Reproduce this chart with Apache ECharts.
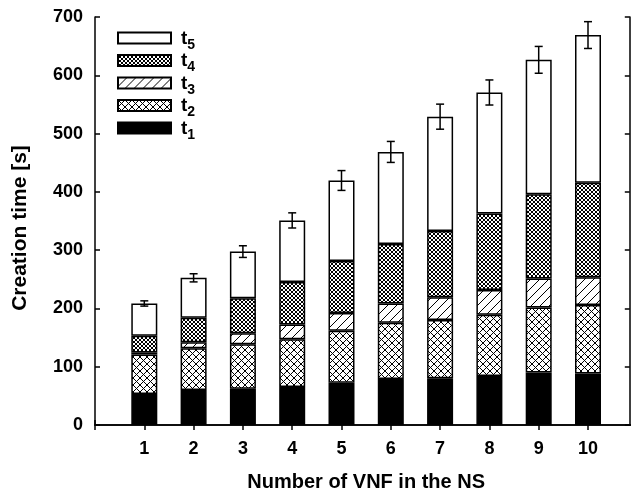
<!DOCTYPE html>
<html>
<head>
<meta charset="utf-8">
<script src="https://cdn.jsdelivr.net/npm/echarts@6/dist/echarts.min.js"></script>
<style>
  html, body { margin: 0; padding: 0; background: #fff; }
  #main { width: 631px; height: 491px; }
</style>
</head>
<body>
<div id="main"></div>
<script>
// number of VNF in the NS
var vnfCount = [1, 2, 3, 4, 5, 6, 7, 8, 9, 10];
// stage durations [s]
var t1 = [53, 60, 62, 65, 72.5, 79, 80, 84, 90, 88.5];
var t2 = [68, 71.5, 76.5, 82, 89, 96.5, 100, 105, 111.5, 117.5];
var t3 = [3.5, 10.5, 19, 25.5, 30.5, 33, 39, 42.5, 50, 47.5];
var t4 = [28.5, 42, 60, 73, 89.5, 102, 114, 131.5, 144.5, 162];
var t5 = [55.5, 68.5, 80, 105.5, 138, 158, 196, 207.5, 230.5, 253.5];
// error bar half-width on the total [s]
var totalErr = [4.5, 7, 10, 13, 17, 18, 21.5, 21.5, 23, 23];
var yTicks = [0, 100, 200, 300, 400, 500, 600, 700];

// x axis runs from 0 to 11, empty slots at both ends
var xCats = [''].concat(vnfCount.map(String), ['']);

var FONT = 'Liberation Sans, Arial, sans-serif';

function tile(size, draw) {
  var c = document.createElement('canvas');
  c.width = size; c.height = size;
  var ctx = c.getContext('2d');
  ctx.fillStyle = '#fff';
  ctx.fillRect(0, 0, size, size);
  ctx.fillStyle = '#000';
  draw(ctx, size);
  return { image: c, repeat: 'repeat' };
}

var patSolid = '#000';
var patCross = tile(7, function (ctx, n) {
  for (var i = 0; i < n; i++) {
    ctx.fillRect(i, i, 1, 1);
    ctx.fillRect(n - 1 - i, i, 1, 1);
  }
});
var patSlash = tile(9, function (ctx, n) {
  for (var i = 0; i < n; i++) ctx.fillRect(i, n - 1 - i, 1, 1);
});
var patDense = tile(4, function (ctx, n) {
  for (var i = 0; i < n; i++) {
    ctx.fillRect(i, i, 1, 1);
    ctx.fillRect(n - 1 - i, i, 1, 1);
  }
});
var patWhite = '#fff';

function pairs(arr) {
  return arr.map(function (v, i) { return [vnfCount[i], v]; });
}

var totals = vnfCount.map(function (_, i) {
  return t1[i] + t2[i] + t3[i] + t4[i] + t5[i];
});

function barSeries(name, data, fill) {
  return {
    name: name,
    type: 'bar',
    stack: 'total',
    barWidth: 26,
    data: pairs(data),
    itemStyle: { color: fill, borderColor: '#000', borderWidth: 1.5 },
    emphasis: { disabled: true }
  };
}

var chart = echarts.init(document.getElementById('main'));

chart.setOption({
  animation: false,
  textStyle: { fontFamily: FONT },
  grid: { left: 95, right: -6.3, top: 17, bottom: 66, outerBoundsMode: 'none' },
  legend: {
    data: ['t5', 't4', 't3', 't2', 't1'],
    orient: 'vertical',
    left: 117,
    top: 29,
    padding: 0,
    icon: 'rect',
    itemWidth: 53,
    itemHeight: 11,
    itemGap: -0.5,
    formatter: function (name) {
      return '{a|t}{b|' + name.slice(1) + '}';
    },
    textStyle: {
      padding: [0, 0, 0, 5],
      rich: {
        a: { fontSize: 19, fontWeight: 'bold', color: '#000', fontFamily: FONT, lineHeight: 18, verticalAlign: 'top' },
        b: { fontSize: 14, fontWeight: 'bold', color: '#000', fontFamily: FONT, lineHeight: 12, verticalAlign: 'top', padding: [9, 0, 0, 0] }
      }
    }
  },
  xAxis: [{
    type: 'category',
    data: xCats,
    boundaryGap: false,
    name: 'Number of VNF in the NS',
    nameLocation: 'middle',
    nameGap: 47,
    nameTextStyle: { fontSize: 20, fontWeight: 'bold', color: '#000' },
    axisLine: { lineStyle: { color: '#000', width: 1.5 } },
    axisTick: { inside: true, length: 5, lineStyle: { color: '#000', width: 1.5 } },
    axisLabel: { margin: 15, fontSize: 18, fontWeight: 'bold', color: '#000', interval: 0 },
    splitLine: { show: false }
  }, {
    type: 'category',
    data: xCats,
    boundaryGap: false,
    position: 'top',
    axisLine: { lineStyle: { color: '#000', width: 1.5 } },
    axisTick: { inside: true, length: 5, interval: 0, lineStyle: { color: '#000', width: 1.5 } },
    axisLabel: { show: false },
    splitLine: { show: false }
  }],
  yAxis: [{
    type: 'value',
    min: yTicks[0],
    max: yTicks[yTicks.length - 1],
    interval: 100,
    name: 'Creation time [s]',
    nameLocation: 'middle',
    nameGap: 64,
    nameTextStyle: { fontSize: 21, fontWeight: 'bold', color: '#000', padding: [0, 14, 0, 0] },
    axisLine: { show: true, lineStyle: { color: '#000', width: 1.5 } },
    axisTick: { show: true, inside: true, length: 5, lineStyle: { color: '#000', width: 1.5 } },
    axisLabel: { margin: 12, fontSize: 18, fontWeight: 'bold', color: '#000' },
    splitLine: { show: false }
  }, {
    type: 'value',
    position: 'right',
    offset: -7.5,
    min: yTicks[0],
    max: yTicks[yTicks.length - 1],
    interval: 100,
    axisLine: { show: true, lineStyle: { color: '#000', width: 1.5 } },
    axisTick: { show: true, inside: true, length: 5, lineStyle: { color: '#000', width: 1.5 } },
    axisLabel: { show: false },
    splitLine: { show: false }
  }],
  series: [
    barSeries('t1', t1, patSolid),
    barSeries('t2', t2, patCross),
    barSeries('t3', t3, patSlash),
    barSeries('t4', t4, patDense),
    barSeries('t5', t5, patWhite),
    {
      name: 'err',
      type: 'custom',
      silent: true,
      z: 10,
      data: vnfCount.map(function (x, i) { return [x, totals[i], totalErr[i]]; }),
      renderItem: function (params, api) {
        var x = api.value(0), y = api.value(1), e = api.value(2);
        var hi = api.coord([x, y + e]);
        var lo = api.coord([x, y - e]);
        var cap = 4;
        var st = { stroke: '#000', lineWidth: 1.5 };
        return {
          type: 'group',
          children: [
            { type: 'line', shape: { x1: hi[0], y1: hi[1], x2: lo[0], y2: lo[1] }, style: st },
            { type: 'line', shape: { x1: hi[0] - cap, y1: hi[1], x2: hi[0] + cap, y2: hi[1] }, style: st },
            { type: 'line', shape: { x1: lo[0] - cap, y1: lo[1], x2: lo[0] + cap, y2: lo[1] }, style: st }
          ]
        };
      }
    }
  ]
});
</script>
</body>
</html>
